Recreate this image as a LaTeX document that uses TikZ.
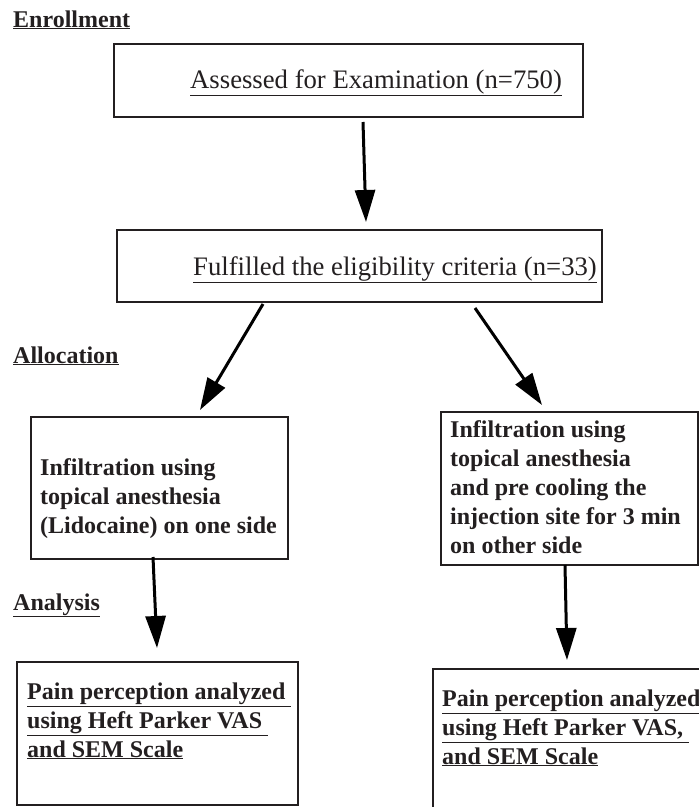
\documentclass[tikz,border=0pt]{standalone}
\usepackage{fontspec}
\setmainfont{Liberation Serif}
\usetikzlibrary{arrows.meta}
\definecolor{ink}{RGB}{35,31,32}

\tikzset{
  box/.style={draw=ink, line width=2pt, inner sep=0pt, anchor=north west},
  plain/.style={font=\fontsize{26.7}{30}\selectfont, text=ink, inner sep=0pt, anchor=base west},
  stage/.style={font=\bfseries\fontsize{24}{29}\selectfont, text=ink, inner sep=0pt, anchor=base west},
  body/.style={font=\bfseries\fontsize{24}{28.8}\selectfont, text=ink, inner sep=0pt, anchor=base west, align=left},
  flow/.style={line width=3pt, draw=black, -{Triangle[length=32pt,width=20pt]}}
}

\begin{document}
\begin{tikzpicture}[x=1pt,y=-1pt,line join=miter]
  \useasboundingbox (0,0) rectangle (699,807);
  \clip (0,0) rectangle (699,807);
  % stage headings
  \node[stage] (enrol) at (13,27) {\underline{Enrollment}};
  \node[stage] (alloc) at (13,363) {\underline{Allocation}};
  \node[stage] (anal) at (13,610) {\underline{Analysis}};
  % boxes
  \node[box, minimum width=469pt, minimum height=73pt] (assessed) at (113,43) {};
  \node[box, minimum width=485pt, minimum height=72pt] (eligible) at (116,229) {};
  \node[box, minimum width=257pt, minimum height=142pt] (lido) at (30,416) {};
  \node[box, minimum width=257pt, minimum height=153pt] (cool) at (440,411) {};
  \node[box, minimum width=281pt, minimum height=143pt] (lidopain) at (16,661) {};
  \node[box, minimum width=290pt, minimum height=170pt] (coolpain) at (432,668) {};
  % texts (multi-line nodes sit on their last line)
  \node[plain] (assessedtext) at (190,88) {\underline{Assessed for Examination (n=750)}};
  \node[plain] (eligibletext) at (193,275) {\underline{Fulfilled the eligibility criteria (n=33)}};
  \node[body] (lidotext) at (40,533) {Infiltration using\\topical anesthesia\\(Lidocaine) on one side};
  \node[body] (cooltext) at (450,553) {Infiltration using\\topical anesthesia\\and pre cooling the\\injection site for 3 min\\on other side};
  \node[body] (lidopaintext) at (27,757) {\underline{Pain perception analyzed\ }\\\underline{using Heft Parker VAS\ }\\\underline{and SEM Scale}};
  \node[body] (coolpaintext) at (442,764) {\underline{Pain perception analyzed}\\\underline{using Heft Parker VAS,\ }\\\underline{and SEM Scale}};
  % arrows
  \coordinate (a1) at (363,122);
  \coordinate (b1) at (366,222);
  \coordinate (a2) at (263,304);
  \coordinate (b2) at (200,410);
  \coordinate (a3) at (475,308);
  \coordinate (b3) at (542,405);
  \coordinate (a4) at (153,557);
  \coordinate (b4) at (157,648);
  \coordinate (a5) at (565,565);
  \coordinate (b5) at (567,660);
  \draw[flow] (a1) -- (b1);
  \draw[flow] (a2) -- (b2);
  \draw[flow] (a3) -- (b3);
  \draw[flow] (a4) -- (b4);
  \draw[flow] (a5) -- (b5);
\end{tikzpicture}
\end{document}
